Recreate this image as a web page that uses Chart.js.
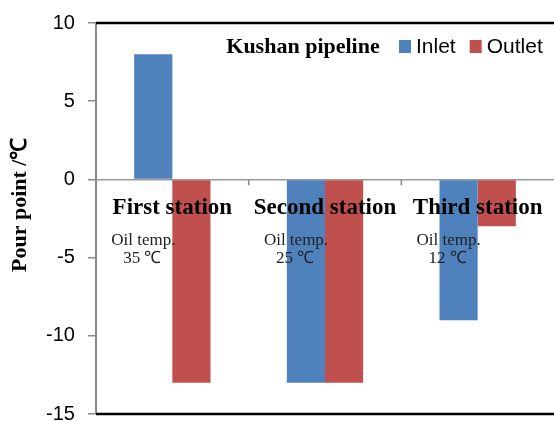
<!DOCTYPE html>
<html>
<head>
<meta charset="utf-8">
<script src="https://cdn.jsdelivr.net/npm/chart.js@4"></script>
<style>
  html, body { margin: 0; padding: 0; background: #fff; }
  #wrap { width: 554px; height: 421px; }
</style>
</head>
<body>
<div id="wrap"><canvas id="c" width="554" height="421"></canvas></div>
<script>
const stations = ['First station', 'Second station', 'Third station'];
const oilTemps = ['35 ℃', '25 ℃', '12 ℃'];
const inlet = [8, -13, -9];
const outlet = [-13, -13, -3];
const yTicks = [-15, -10, -5, 0, 5, 10];

const serif = '"Liberation Serif", "Times New Roman", serif';
const sans = '"Liberation Sans", Arial, sans-serif';

// frame lines, station labels, title and legend drawn on top
const decor = {
  id: 'decor',
  afterDraw(chart) {
    const { ctx, chartArea: a, scales } = chart;
    const x = scales.x, y = scales.y;
    const y0 = y.getPixelForValue(0);
    ctx.save();

    ctx.strokeStyle = '#000';
    ctx.lineWidth = 2.5;
    ctx.beginPath();
    ctx.moveTo(a.left, a.top); ctx.lineTo(a.right, a.top);
    ctx.moveTo(a.left, a.bottom); ctx.lineTo(a.right, a.bottom);
    ctx.stroke();

    // small ticks between categories on the zero line
    ctx.strokeStyle = '#888';
    ctx.lineWidth = 1.5;
    for (let i = 0; i < stations.length - 1; i++) {
      const xb = (x.getPixelForTick(i) + x.getPixelForTick(i + 1)) / 2;
      ctx.beginPath();
      ctx.moveTo(xb, y0); ctx.lineTo(xb, y0 + 6);
      ctx.stroke();
    }

    stations.forEach((s, i) => {
      const cx = x.getPixelForTick(i);
      ctx.fillStyle = '#000';
      ctx.font = 'bold 23px ' + serif;
      ctx.textAlign = 'center';
      ctx.textBaseline = 'middle';
      ctx.fillText(s, cx, y0 + 29);
      ctx.fillStyle = '#222';
      ctx.font = '17px ' + serif;
      ctx.fillText('Oil temp.', cx - 29, y0 + 61);
      ctx.fillText(oilTemps[i], cx - 30, y0 + 79);
    });

    ctx.fillStyle = '#000';
    ctx.font = 'bold 22px ' + serif;
    ctx.textAlign = 'center';
    ctx.textBaseline = 'middle';
    ctx.fillText('Kushan pipeline', 303, 47);

    let lx = 399;
    ctx.font = '21px ' + sans;
    ctx.textAlign = 'left';
    chart.data.datasets.forEach(ds => {
      ctx.fillStyle = ds.backgroundColor;
      ctx.fillRect(lx, 40, 12, 13);
      ctx.fillStyle = '#000';
      ctx.fillText(ds.label, lx + 17, 47);
      lx += 17 + ctx.measureText(ds.label).width + 14;
    });
    ctx.restore();
  }
};

new Chart(document.getElementById('c'), {
  type: 'bar',
  data: {
    labels: stations,
    datasets: [
      { label: 'Inlet', data: inlet, backgroundColor: '#4F81BD' },
      { label: 'Outlet', data: outlet, backgroundColor: '#C0504D' }
    ]
  },
  options: {
    responsive: false,
    animation: false,
    layout: { padding: { top: 23, bottom: 6, right: 0, left: 0 } },
    datasets: { bar: { categoryPercentage: 0.5, barPercentage: 1.0 } },
    plugins: { legend: { display: false }, tooltip: { enabled: false } },
    scales: {
      x: { display: false },
      y: {
        min: -15,
        max: 10,
        afterBuildTicks: s => { s.ticks = yTicks.map(v => ({ value: v })); },
        afterFit: s => { s.width = 96; },
        ticks: {
          color: '#000',
          font: { family: sans, size: 20, lineHeight: 0.5 },
          padding: 2,
          callback: v => v + '  '
        },
        grid: {
          color: c => (c.tick && c.tick.value === 0 ? '#999' : 'rgba(0,0,0,0)'),
          tickColor: '#888',
          tickLength: 8,
          lineWidth: 1.5
        },
        border: { display: true, color: '#888', width: 2 },
        title: {
          display: true,
          text: '     Pour point /℃',
          color: '#000',
          font: { family: serif, size: 22, weight: 'bold' },
          padding: { top: 7, bottom: 4 }
        }
      }
    }
  },
  plugins: [decor]
});
</script>
</body>
</html>
